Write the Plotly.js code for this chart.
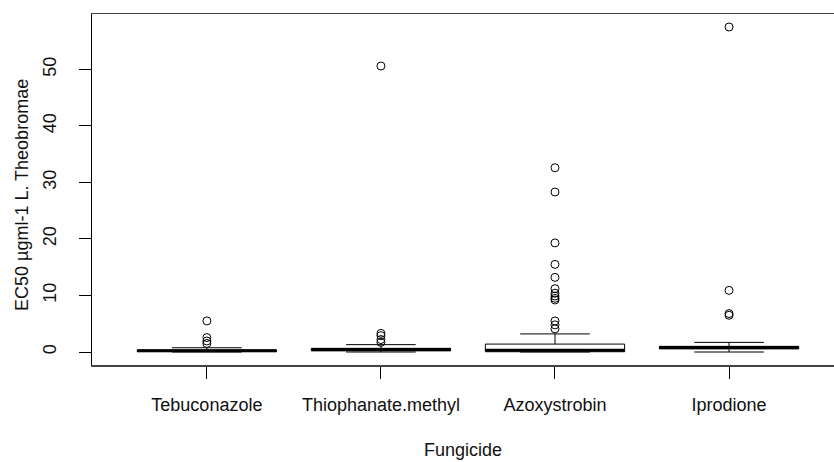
<!DOCTYPE html>
<html>
<head>
<meta charset="utf-8">
<script src="https://cdn.plot.ly/plotly-3.0.1.min.js"></script>
<style>html,body{margin:0;padding:0;background:#fff;}#chart{width:834px;height:462px;}</style>
</head>
<body>
<div id="chart"></div>
<script>
// Categories
const categories = ["Tebuconazole", "Thiophanate.methyl", "Azoxystrobin", "Iprodione"];
// Box statistics
const lowerFence = [0.0, 0.0, 0.0, 0.0];
const q1Values   = [0.08, 0.2, 0.05, 0.55];
const medians    = [0.2, 0.45, 0.3, 0.8];
const q3Values   = [0.35, 0.65, 1.4, 1.0];
const upperFence = [0.75, 1.3, 3.2, 1.7];
// Outliers per group
const tebuconazoleOut = [5.5, 2.55, 1.95, 1.5];
const thiophanateOut  = [50.6, 3.3, 2.9, 2.2, 1.7];
const azoxystrobinOut = [32.6, 28.3, 19.3, 15.5, 13.2, 11.2, 10.4, 9.9, 9.5, 9.2, 5.5, 4.8, 4.1];
const iprodioneOut    = [57.5, 10.9, 6.8, 6.5];
const yTicks = [0, 10, 20, 30, 40, 50];
const xTitle = "Fungicide";
const yTitle = "EC50 µgml-1 L. Theobromae";

const outlierGroups = [tebuconazoleOut, thiophanateOut, azoxystrobinOut, iprodioneOut];
const positions = categories.map((c, i) => i + 1);
const boxWidth = 0.8;

const boxTrace = {
  type: "box",
  x: positions,
  q1: q1Values,
  median: medians,
  q3: q3Values,
  lowerfence: lowerFence,
  upperfence: upperFence,
  width: boxWidth,
  whiskerwidth: 0.5,
  boxpoints: false,
  fillcolor: "rgba(255,255,255,1)",
  line: {color: "#000", width: 1},
  hoverinfo: "skip",
  showlegend: false
};

// Thick median segments
const mx = [], my = [];
medians.forEach((m, i) => {
  mx.push(positions[i] - boxWidth / 2, positions[i] + boxWidth / 2, null);
  my.push(m, m, null);
});
const medianTrace = {
  type: "scatter", mode: "lines", x: mx, y: my,
  line: {color: "#000", width: 3}, hoverinfo: "skip", showlegend: false
};

const ox = [], oy = [];
outlierGroups.forEach((arr, i) => arr.forEach(v => { ox.push(positions[i]); oy.push(v); }));
const outlierTrace = {
  type: "scatter", mode: "markers", x: ox, y: oy,
  marker: {symbol: "circle-open", size: 8, color: "#000", line: {width: 1, color: "#000"}},
  hoverinfo: "skip", showlegend: false
};

const font = {family: "Liberation Sans, Arial, sans-serif", size: 18, color: "#111"};

const W = 834, H = 462, L = 92, T = 14, B = 97;
const plotW = W - L, plotH = H - T - B;

const layout = {
  width: W, height: H,
  margin: {l: L, r: 0, t: T, b: B, pad: 0},
  paper_bgcolor: "#fff", plot_bgcolor: "#fff",
  font: font,
  showlegend: false,
  xaxis: {
    range: [0.34, 4.603],
    tickmode: "array", tickvals: positions, ticktext: categories,
    showgrid: false, zeroline: false,
    showline: true, linecolor: "#444", linewidth: 1.5, mirror: true,
    ticks: "outside", ticklen: 12, tickcolor: "#000", tickwidth: 1,
    ticklabelstandoff: 11,
    tickfont: font
  },
  yaxis: {
    range: [-2.3, 59.8],
    tickmode: "array", tickvals: yTicks, ticktext: yTicks.map(String),
    tickangle: -90,
    showgrid: false, zeroline: false,
    showline: true, linecolor: "#000", linewidth: 1.5, mirror: false,
    ticks: "outside", ticklen: 12, tickcolor: "#000", tickwidth: 1,
    ticklabelstandoff: 15,
    tickfont: font
  },
  annotations: [
    {text: xTitle, xref: "paper", yref: "paper", x: (463 - L) / plotW, y: -(450 - (T + plotH)) / plotH,
     xanchor: "center", yanchor: "middle", showarrow: false, font: font},
    {text: yTitle, xref: "paper", yref: "paper", x: (22 - L) / plotW, y: (T + plotH - 195) / plotH,
     xanchor: "center", yanchor: "middle", textangle: -90, showarrow: false, font: font}
  ]
};

Plotly.newPlot("chart", [boxTrace, medianTrace, outlierTrace], layout, {staticPlot: true, displayModeBar: false});
</script>
</body>
</html>
